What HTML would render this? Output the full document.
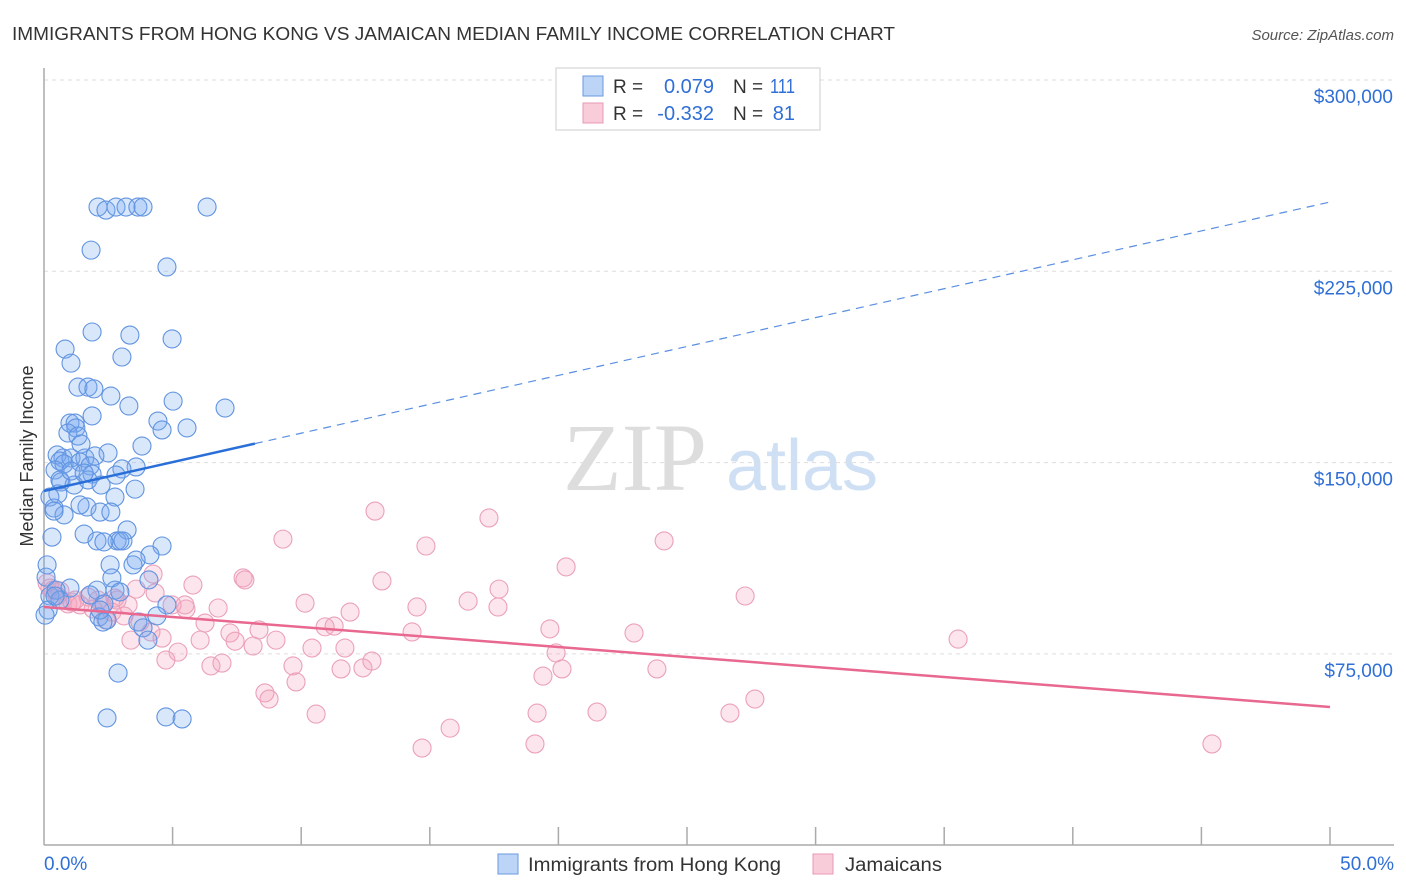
<!DOCTYPE html>
<html><head><meta charset="utf-8">
<style>
body{margin:0;background:#fff;font-family:"Liberation Sans",sans-serif;}
#wrap{position:relative;width:1406px;height:892px;overflow:hidden;}
</style></head>
<body>
<div id="wrap">
<svg id="svg" width="1406" height="892" xmlns="http://www.w3.org/2000/svg">
<text x="12" y="40" font-size="18" fill="#333" textLength="883" lengthAdjust="spacingAndGlyphs">IMMIGRANTS FROM HONG KONG VS JAMAICAN MEDIAN FAMILY INCOME CORRELATION CHART</text>
<text x="1394" y="40" font-size="15" fill="#555" font-style="italic" text-anchor="end">Source: ZipAtlas.com</text>
<text x="33" y="456" font-size="18" fill="#333" text-anchor="middle" transform="rotate(-90 33 456)">Median Family Income</text>
<g><text x="635" y="490" font-size="96" fill="#ddd" font-family="Liberation Serif" text-anchor="middle">ZIP</text><text x="802" y="490" font-size="72" fill="#cfe0f5" text-anchor="middle">atlas</text></g>
<g id="grid"></g><g id="axes"></g><g id="marks"></g>
<g>
<rect x="556" y="68" width="264" height="62" fill="#fff" stroke="#ccc"/>
<rect x="583" y="76" width="20" height="20" fill="#bcd4f6" stroke="#6a9ae0"/>
<rect x="583" y="103" width="20" height="20" fill="#f9ccda" stroke="#e899b5"/>
<text x="613" y="93" font-size="19" fill="#333">R =</text>
<text x="714" y="93" font-size="20" fill="#2f6fd6" text-anchor="end">0.079</text>
<text x="733" y="93" font-size="19" fill="#333">N =</text>
<text x="795" y="93" font-size="20" fill="#2f6fd6" text-anchor="end" textLength="25" lengthAdjust="spacingAndGlyphs">111</text>
<text x="613" y="120" font-size="19" fill="#333">R =</text>
<text x="714" y="120" font-size="20" fill="#2f6fd6" text-anchor="end">-0.332</text>
<text x="733" y="120" font-size="19" fill="#333">N =</text>
<text x="795" y="120" font-size="20" fill="#2f6fd6" text-anchor="end">81</text>
</g>
<g>
<rect x="498" y="854" width="20" height="20" fill="#bcd4f6" stroke="#6a9ae0"/>
<text x="528" y="871" font-size="19" fill="#333" textLength="253" lengthAdjust="spacingAndGlyphs">Immigrants from Hong Kong</text>
<rect x="813" y="854" width="20" height="20" fill="#f9ccda" stroke="#e899b5"/>
<text x="845" y="871" font-size="19" fill="#333" textLength="97" lengthAdjust="spacingAndGlyphs">Jamaicans</text>
</g>
</svg>
</div>
<script>
const yTicks=[300000,225000,150000,75000];
const yTickLabels=["$300,000","$225,000","$150,000","$75,000"];
const xTickLabels=["0.0%","50.0%"];
const blueX=[2.10,2.41,2.80,3.19,3.65,3.85,6.34,1.83,4.78,1.87,3.34,4.98,0.82,1.05,3.03,1.32,1.71,1.94,2.60,5.02,3.30,7.04,4.43,1.01,1.21,1.24,1.87,4.59,5.56,0.93,1.32,1.44,3.81,2.49,0.51,0.74,0.62,1.05,1.59,1.98,0.78,1.40,1.79,3.58,3.03,0.43,2.80,1.87,0.66,1.71,1.17,2.22,0.54,3.54,0.23,2.76,0.39,1.67,0.78,2.18,2.60,0.39,3.23,0.31,1.56,2.06,2.84,2.95,3.07,2.33,4.59,4.12,3.58,3.46,2.57,2.64,4.08,0.12,0.08,1.01,0.23,0.47,2.06,2.76,2.33,2.95,4.78,2.14,2.45,4.39,3.65,3.85,4.04,2.88,2.45,4.74,5.37,0.16,0.04,0.62,2.29,2.18,0.62,1.05,1.56,0.43,1.79,1.40];
const blueY=[250.2,249.0,250.2,250.2,250.2,250.2,250.2,233.3,226.7,201.2,200.0,198.5,194.5,189.0,191.4,179.6,179.6,178.9,176.1,174.1,172.2,171.4,166.3,165.5,165.5,163.6,168.3,162.8,163.6,161.6,160.4,157.3,156.5,153.8,153.0,151.8,150.6,151.8,151.8,152.6,149.5,150.2,148.7,148.3,147.5,147.1,145.1,145.5,142.4,143.2,141.2,141.2,137.7,139.6,136.5,136.5,132.2,132.6,129.5,130.6,130.6,131.0,123.6,120.8,122.0,119.3,119.3,119.3,119.3,118.9,117.3,113.8,111.8,109.9,109.9,104.8,104.0,109.9,105.1,100.8,97.7,100.0,100.0,100.0,94.6,99.3,94.2,89.5,88.3,89.9,87.5,85.2,80.4,67.5,49.9,50.3,49.5,92.2,90.2,96.1,87.5,92.2,143.2,146.7,145.9,97.7,98.1,133.4];
const pinkX=[0.12,0.23,0.35,0.51,0.70,0.93,1.09,1.40,1.71,1.91,2.10,2.26,2.41,2.64,2.84,3.27,3.11,3.58,3.38,3.73,4.16,4.24,4.59,4.74,4.98,5.21,5.52,5.79,6.07,6.26,6.49,6.77,6.92,7.23,7.43,7.74,7.81,8.13,8.36,8.59,8.75,9.02,9.29,9.68,9.80,10.15,10.58,10.42,10.93,11.28,11.55,11.70,11.90,12.40,12.75,12.87,13.14,14.31,14.50,14.70,14.85,15.79,16.49,17.30,17.69,17.65,19.17,19.09,19.67,19.91,20.14,20.30,19.40,21.50,22.94,23.83,24.11,26.67,27.26,27.64,35.54,45.41,0.62,1.21,2.76,4.32,5.48];
const pinkY=[102.8,100.8,100.0,97.7,96.1,94.6,95.3,94.2,97.3,92.6,96.1,94.2,88.3,91.4,96.1,94.2,89.9,100.4,80.4,87.5,83.6,106.3,81.2,72.6,94.2,75.7,92.6,102.0,80.4,87.1,70.3,93.0,71.4,83.2,80.0,104.8,104.0,78.1,84.4,59.7,57.3,80.4,120.0,70.3,64.0,94.9,51.4,77.3,85.6,85.9,69.1,77.3,91.4,69.5,72.2,131.0,103.6,83.6,93.4,38.1,117.3,45.9,95.7,128.3,100.4,93.4,51.8,39.7,84.8,75.4,69.1,109.1,66.3,52.2,83.2,69.1,119.3,51.8,97.7,57.3,80.8,39.7,99.7,96.1,96.9,98.9,94.2];
const blueTrend=[138866,252170];
const pinkTrend=[93388,54183];
const blueSolidEnd=8.2;

const NS="http://www.w3.org/2000/svg";
const X=p=>44+p*25.72;
const Y=v=>80+(300000-v)/75000*191.3;
function mk(t,a,parent){const e=document.createElementNS(NS,t);for(const k in a)e.setAttribute(k,a[k]);parent.appendChild(e);return e;}
const grid=document.getElementById('grid'),axes=document.getElementById('axes'),marks=document.getElementById('marks');
yTicks.forEach((v,i)=>{
 const l=mk('line',{x1:44,x2:1394,y1:Y(v),y2:Y(v),stroke:'#ddd','stroke-dasharray':'4,4'},grid);
 
 
 const t=mk('text',{x:1393,y:Y(v)+23,'font-size':19,fill:'#2f6fd6','text-anchor':'end'},axes);
 t.textContent=yTickLabels[i];
 
 
});
mk('line',{x1:44,x2:44,y1:68,y2:845,stroke:'#aaa','stroke-width':1.5},axes);
mk('line',{x1:44,x2:1394,y1:845,y2:845,stroke:'#aaa','stroke-width':1.5},axes);
for(let i=1;i<=10;i++){mk('line',{x1:X(i*5),x2:X(i*5),y1:827,y2:845,stroke:'#aaa','stroke-width':1.5},axes);}
const xl0=mk('text',{x:44,y:870,'font-size':19,fill:'#2f6fd6'},axes);xl0.textContent=xTickLabels[0];


const xl1=mk('text',{x:1394,y:870,'font-size':19,fill:'#2f6fd6','text-anchor':'end'},axes);xl1.textContent=xTickLabels[1];


function dots(xs,ys,fill,stroke,name){xs.forEach((p,i)=>{
 const c=mk('circle',{cx:X(p),cy:Y(ys[i]*1000),r:9,fill:fill,stroke:stroke,'stroke-width':1.1},marks);
 
 
});}
dots(pinkX,pinkY,'rgba(243,160,188,0.28)','#eba0bb','jamaican-point');
dots(blueX,blueY,'rgba(120,170,240,0.28)','#6093e0','hong-kong-point');
const bAt=p=>blueTrend[0]+(blueTrend[1]-blueTrend[0])*p/50;
const bl=mk('line',{x1:X(0),y1:Y(bAt(0)),x2:X(blueSolidEnd),y2:Y(bAt(blueSolidEnd)),stroke:'#2a6fd8','stroke-width':2.5},marks);


const bd=mk('line',{x1:X(blueSolidEnd),y1:Y(bAt(blueSolidEnd)),x2:X(50),y2:Y(bAt(50)),stroke:'#5a8fe0','stroke-width':1.2,'stroke-dasharray':'8,6'},marks);


const pl=mk('line',{x1:X(0),y1:Y(pinkTrend[0]),x2:X(50),y2:Y(pinkTrend[1]),stroke:'#e8688f','stroke-width':2.5},marks);


</script>
</body></html>
